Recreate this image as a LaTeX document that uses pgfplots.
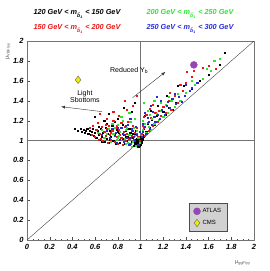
\documentclass[border=0pt]{standalone}
\usepackage{pgfplots}
\pgfplotsset{compat=1.18}
\usepackage{fontspec}
\setmainfont{Liberation Sans}
\definecolor{ptgreen}{RGB}{40,230,40}
\definecolor{ptblue}{RGB}{40,40,220}
\definecolor{ptred}{RGB}{240,20,20}
\definecolor{atlas}{RGB}{150,70,180}
\definecolor{cms}{RGB}{240,235,0}
\newcommand{\msb}{m\textsubscript{\~b\textsubscript{1}}}
\begin{document}
\begin{tikzpicture}
\begin{axis}[
  scale only axis, width=227pt, height=199pt,
  xmin=0, xmax=2, ymin=0, ymax=2,
  axis line style={black!55},
  xtick={0,0.2,0.4,0.6,0.8,1,1.2,1.4,1.6,1.8,2},
  ytick={0,0.2,0.4,0.6,0.8,1,1.2,1.4,1.6,1.8,2},
  minor x tick num=3, minor y tick num=3,
  tick align=inside, xtick pos=bottom, ytick pos=left,
  major tick length=3pt, minor tick length=1.5pt,
  tick style={black!70},
  /pgf/number format/assume math mode=true,
  tick label style={font=\fontsize{7.5}{8}\selectfont\bfseries\itshape},
  xticklabel style={yshift=-1pt},
  legend style={at={(axis cs:1.43,0.09)}, anchor=south west, fill=black!18, draw=black!70,
    font=\fontsize{6}{7}\selectfont, row sep=2pt, inner xsep=4pt, inner ysep=3pt},
  legend cell align=left,
]
\coordinate (SW) at (rel axis cs:0,0);
\coordinate (NE) at (rel axis cs:1,1);
\addplot[black!55, forget plot] coordinates {(0,1) (2,1)};
\addplot[black!55, forget plot] coordinates {(1,0) (1,2)};
\addplot[black!75, forget plot] coordinates {(0,0) (2,2)};
% 120-150 (black)
\addplot[only marks, mark=square*, mark size=0.6pt, black, forget plot] coordinates {
(0.42,1.12)(0.45,1.10)(0.47,1.12)(0.48,1.09)(0.50,1.11)(0.51,1.08)(0.52,1.10)(0.53,1.12)(0.54,1.07)(0.55,1.10)
(0.56,1.06)(0.57,1.09)(0.58,1.12)(0.59,1.05)(0.60,1.08)
(0.61,1.03)(0.62,1.10)(0.63,1.06)(0.64,1.01)(0.65,1.12)(0.66,1.04)(0.67,1.08)(0.68,0.99)(0.69,1.13)(0.70,1.02)
(0.71,1.07)(0.72,0.98)(0.73,1.10)(0.74,1.04)(0.75,1.15)(0.76,1.00)(0.77,1.06)(0.78,0.97)(0.79,1.11)(0.80,1.03)
(0.81,1.08)(0.82,0.98)(0.83,1.13)(0.84,1.02)(0.85,1.06)(0.86,0.97)(0.87,1.10)(0.88,1.00)(0.89,1.04)(0.90,0.96)
(0.91,1.08)(0.92,0.99)(0.93,1.03)(0.94,0.95)(0.95,1.06)(0.96,0.98)(0.97,1.02)(0.98,0.94)(0.99,1.04)
(0.63,1.14)(0.66,0.99)(0.70,1.17)(0.73,1.01)(0.77,1.19)(0.80,1.09)(0.84,1.16)(0.87,1.04)(0.90,1.12)(0.93,1.07)(0.96,1.10)
(1.00,1.00)(0.96,0.97)(0.97,0.99)(0.98,0.97)(0.99,0.99)(1.00,0.98)(1.01,1.00)(0.97,0.96)(0.98,0.99)(0.99,1.01)
(1.00,1.02)(0.96,0.99)(1.01,1.02)(0.98,0.95)(0.99,0.97)(1.02,1.03)(0.97,1.01)(1.00,0.96)(0.95,0.98)(1.01,0.98)
(0.99,1.03)(0.98,1.02)(0.96,1.01)(1.02,1.01)(1.00,0.99)(0.97,0.98)(0.99,0.95)(0.96,0.96)(1.03,1.04)(1.01,1.04)
(0.95,0.96)(0.98,1.00)(1.00,0.97)(0.97,1.00)(0.99,0.98)(1.01,1.01)(0.94,0.99)(0.95,1.00)
(0.60,1.24)(0.72,1.27)(0.85,1.33)(0.92,1.29)(0.80,1.22)(0.68,1.20)(0.95,1.38)
(1.02,1.06)(1.03,1.12)(1.05,1.09)(1.06,1.17)(1.08,1.13)(1.10,1.21)(1.12,1.16)(1.14,1.25)(1.17,1.22)(1.20,1.29)
(1.22,1.26)(1.25,1.33)(1.28,1.31)(1.31,1.38)(1.35,1.40)(1.04,1.25)(1.09,1.30)(1.15,1.35)(1.38,1.55)(1.45,1.52)
(1.52,1.60)(1.60,1.66)(1.70,1.76)(1.74,1.88)(1.33,1.55)(1.23,1.45)
};
% 150-200 (red)
\addplot[only marks, mark=square*, mark size=0.6pt, ptred, forget plot] coordinates {
(0.55,1.13)(0.57,1.06)(0.58,1.15)(0.60,1.04)(0.61,1.11)(0.62,1.18)(0.64,1.07)(0.65,1.02)(0.66,1.14)(0.67,1.00)
(0.68,1.09)(0.69,1.05)(0.70,1.12)(0.71,0.98)(0.72,1.15)(0.73,1.06)(0.74,1.01)(0.75,1.10)(0.76,1.20)(0.77,0.99)
(0.78,1.13)(0.79,1.04)(0.80,0.97)(0.81,1.11)(0.82,1.06)(0.83,1.18)(0.84,0.96)(0.85,1.09)(0.86,1.14)(0.87,1.00)
(0.88,1.07)(0.89,1.19)(0.90,1.02)(0.91,0.97)(0.92,1.10)(0.93,1.15)(0.94,1.01)(0.95,1.08)(0.96,0.95)(0.97,1.13)
(0.98,1.04)(0.99,1.00)(0.63,1.01)(0.69,1.16)(0.74,1.08)(0.79,1.15)(0.83,1.03)(0.88,1.12)(0.92,1.05)(0.97,1.07)
(0.64,1.27)(0.76,1.29)(0.88,1.31)(0.93,1.35)(0.81,1.25)(0.70,1.22)(0.86,1.40)(0.97,1.45)
(1.01,1.07)(1.03,1.13)(1.04,1.05)(1.06,1.18)(1.07,1.10)(1.09,1.23)(1.11,1.15)(1.13,1.28)(1.15,1.19)(1.18,1.25)
(1.20,1.34)(1.22,1.28)(1.25,1.40)(1.27,1.31)(1.30,1.45)(1.33,1.38)(1.37,1.50)(1.40,1.58)(1.41,1.69)(1.45,1.64)
(1.55,1.73)(1.03,1.24)(1.08,1.32)(1.02,1.15)(1.05,1.26)(1.11,1.36)(1.16,1.30)(1.26,1.48)(1.35,1.56)(1.47,1.70)
(1.60,1.75)(1.66,1.72)
};
% 200-250 (green)
\addplot[only marks, mark=square*, mark size=0.6pt, ptgreen, forget plot] coordinates {
(0.62,1.08)(0.66,1.11)(0.68,1.03)(0.70,1.07)(0.72,1.12)(0.74,0.99)(0.76,1.07)(0.77,1.13)(0.79,1.01)(0.80,1.16)
(0.81,1.05)(0.82,1.09)(0.84,1.20)(0.85,0.99)(0.86,1.02)(0.87,1.11)(0.88,1.13)(0.89,0.98)(0.90,1.06)(0.91,1.19)
(0.92,0.94)(0.93,0.99)(0.94,1.13)(0.95,1.05)(0.96,0.95)(0.97,1.10)(0.98,1.03)(0.99,0.98)(0.80,1.03)(0.87,0.97)
(0.75,1.17)(0.83,1.24)(0.90,1.28)(0.95,1.22)
(1.01,1.05)(1.02,1.11)(1.04,1.17)(1.05,1.08)(1.07,1.14)(1.09,1.11)(1.10,1.22)(1.12,1.17)(1.14,1.27)(1.16,1.21)
(1.18,1.30)(1.20,1.24)(1.22,1.36)(1.24,1.28)(1.27,1.40)(1.30,1.34)(1.33,1.47)(1.35,1.40)(1.40,1.48)(1.48,1.56)
(1.55,1.62)(1.62,1.70)(1.65,1.80)(1.03,1.38)(1.12,1.40)(1.06,1.30)(1.02,1.20)(1.08,1.26)(1.18,1.38)(1.25,1.44)
(1.45,1.60)(1.70,1.82)(1.58,1.72)
};
% 250-300 (blue)
\addplot[only marks, mark=square*, mark size=0.6pt, ptblue, forget plot] coordinates {
(0.66,1.06)(0.70,1.10)(0.73,1.03)(0.75,1.12)(0.77,1.05)(0.78,1.08)(0.80,1.13)(0.82,1.01)(0.83,1.13)(0.84,1.07)
(0.86,1.06)(0.87,1.15)(0.88,1.03)(0.89,1.16)(0.90,0.96)(0.91,1.03)(0.92,1.12)(0.93,1.10)(0.94,1.04)(0.95,1.00)
(0.96,1.14)(0.97,1.06)(0.98,0.96)(0.99,1.09)(0.85,0.99)(0.79,0.98)(0.91,1.22)
(1.01,1.04)(1.02,1.09)(1.04,1.14)(1.05,1.07)(1.07,1.19)(1.08,1.12)(1.10,1.16)(1.12,1.24)(1.13,1.19)(1.15,1.26)
(1.17,1.22)(1.19,1.31)(1.21,1.26)(1.23,1.35)(1.26,1.33)(1.28,1.42)(1.31,1.37)(1.34,1.44)(1.36,1.39)(1.39,1.45)
(1.43,1.50)(1.40,1.56)(1.14,1.44)(1.04,1.28)(1.09,1.35)(1.02,1.17)(1.06,1.23)(1.11,1.29)(1.18,1.40)(1.24,1.39)
(1.30,1.47)(1.45,1.53)(1.50,1.58)
};
\addplot[only marks, mark=*, mark size=3.5pt, draw=atlas, fill=atlas] coordinates {(1.47,1.76)};
\addlegendentry{ATLAS}
\addplot[only marks, mark=diamond*, mark size=3.8pt, draw=black!60, fill=cms] coordinates {(0.45,1.61)};
\addlegendentry{CMS}
\draw[-latex, black!80] (axis cs:0.93,1.43) -- (axis cs:1.22,1.69);
\draw[-latex, black!80] (axis cs:0.66,1.29) -- (axis cs:0.30,1.34);
\node[font=\fontsize{7}{8}\selectfont] at (axis cs:0.90,1.70) {Reduced Y\textsubscript{b}};
\node[font=\fontsize{7}{8}\selectfont, align=center, inner sep=0pt] at (axis cs:0.51,1.445) {Light\\[-1pt]Sbottoms};
\end{axis}
\node[font=\fontsize{5.5}{6}\selectfont, rotate=90, anchor=east, text=black!70] at ([xshift=-19pt,yshift=1pt]SW|-NE) {μ\textsubscript{VBF/γγ}};
\node[font=\fontsize{5.5}{6}\selectfont, anchor=north east, text=black!70] at ([xshift=0pt,yshift=-17pt]SW-|NE) {μ\textsubscript{ggF/γγ}};
\begin{scope}[font=\fontsize{7.3}{8}\selectfont\bfseries\itshape]
\node[anchor=west] at ([xshift=3pt,yshift=27pt]SW|-NE) {120 GeV < \msb{} < 150 GeV};
\node[anchor=west, text=ptred] at ([xshift=3pt,yshift=12pt]SW|-NE) {150 GeV < \msb{} < 200 GeV};
\node[anchor=west, text=ptgreen] at ([xshift=116pt,yshift=27pt]SW|-NE) {200 GeV < \msb{} < 250 GeV};
\node[anchor=west, text=ptblue] at ([xshift=116pt,yshift=12pt]SW|-NE) {250 GeV < \msb{} < 300 GeV};
\end{scope}
\pgfresetboundingbox
\path ([shift={(-27pt,-31pt)}]SW) rectangle ([shift={(16pt,41pt)}]NE);
\end{tikzpicture}
\end{document}
